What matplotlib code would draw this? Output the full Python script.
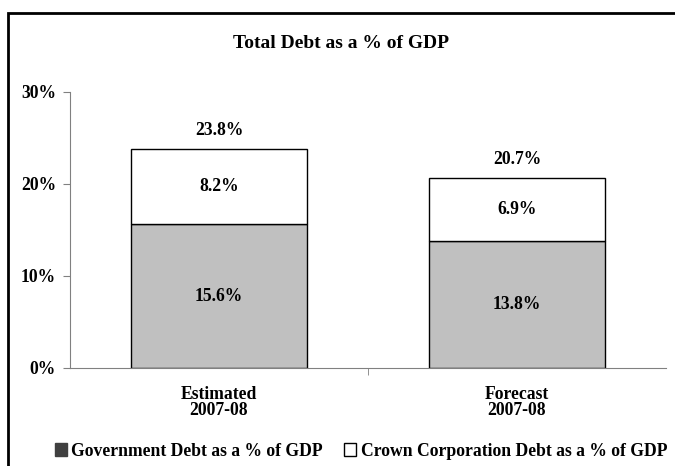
import numpy as np
import matplotlib
matplotlib.use("Agg")
from matplotlib import pyplot as plt
from matplotlib.patches import Rectangle

categories = ["Estimated\n2007-08", "Forecast\n2007-08"]
gov_debt = [15.6, 13.8]
crown_debt = [8.2, 6.9]
totals = [23.8, 20.7]
series_names = ["Government Debt as a % of GDP", "Crown Corporation Debt as a % of GDP"]
yticks = [0, 10, 20, 30]

plt.rcParams['font.family'] = ['Liberation Serif', 'DejaVu Serif']
plt.rcParams['font.weight'] = 'bold'

W, H = 675, 466
fig = plt.figure(figsize=(W/100, H/100), dpi=100)

# outer frame (bottom and right edges fall outside the picture)
fig.patches.append(Rectangle((8/W, -0.1), 1.2, 1.1 - 13/H, transform=fig.transFigure,
                             fill=False, edgecolor='black', linewidth=2))

ax = fig.add_axes([70/W, 1-368/H, (666-70)/W, (368-92)/H])
x = np.arange(len(categories))
bw = 0.59
ax.bar(x, gov_debt, bw, color='#C0C0C0', edgecolor='black', linewidth=1, label=series_names[0])
ax.bar(x, crown_debt, bw, bottom=gov_debt, color='white', edgecolor='black', linewidth=1,
       label=series_names[1])

fs = 12.7
for i in range(len(categories)):
    ax.text(x[i], gov_debt[i]/2, f"{gov_debt[i]:.1f}%", ha='center', va='center', fontsize=fs, fontweight='bold')
    ax.text(x[i], gov_debt[i] + crown_debt[i]/2, f"{crown_debt[i]:.1f}%", ha='center', va='center',
            fontsize=fs, fontweight='bold')
    ax.text(x[i], totals[i] + 2.0, f"{totals[i]:.1f}%", ha='center', va='center', fontsize=fs, fontweight='bold')

ax.set_xlim(-0.5, 1.5)
ax.set_ylim(0, 30)
ax.set_yticks(yticks)
ax.set_yticklabels([f"{v}%" for v in yticks], fontsize=fs, fontweight='bold')
ax.set_xticks([0.5], minor=True)
ax.set_xticks(x)
ax.set_xticklabels(categories, fontsize=fs, fontweight='bold', linespacing=0.95)
ax.tick_params(axis='x', which='major', length=0, pad=13)
ax.tick_params(axis='x', which='minor', length=5, color='#808080', direction='out')
ax.tick_params(axis='y', length=5, color='#808080', direction='out', pad=5)
for s in ['top', 'right']:
    ax.spines[s].set_visible(False)
ax.spines['left'].set_color('#808080')
ax.spines['bottom'].set_color('#808080')

fig.text(341/W, 1-43/H, "Total Debt as a % of GDP", ha='center', va='center', fontsize=14, fontweight='bold')

leg = fig.legend(loc='center', bbox_to_anchor=(361/W, 1-451/H), ncol=2, frameon=False,
                 fontsize=fs, handlelength=0.7, handleheight=0.7, handletextpad=0.25, columnspacing=1.2)
leg.legend_handles[0].set_facecolor('#404040')
leg.legend_handles[0].set_edgecolor('#404040')

fig.savefig("out.png", dpi=100)
